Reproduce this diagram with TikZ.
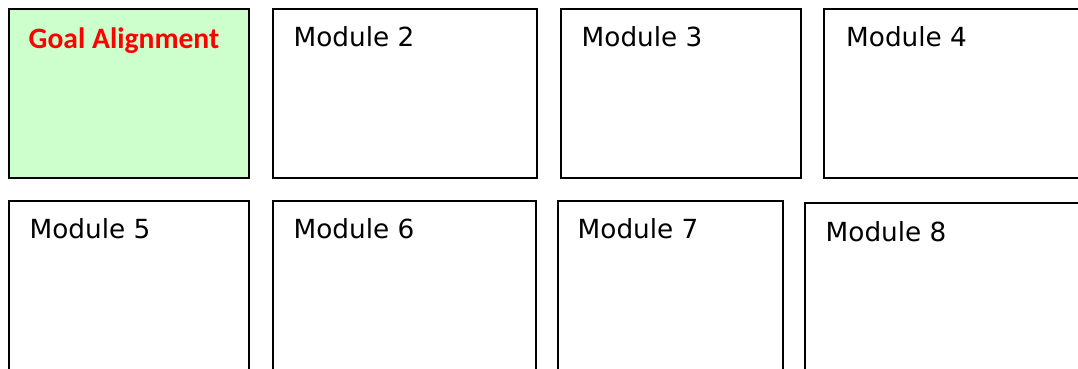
\documentclass[tikz,border=0pt]{standalone}
\usepackage{fontspec}
\newfontfamily\modfont{DejaVu Sans}
\newfontfamily\goalfont{Carlito}
\definecolor{goalfill}{RGB}{204,255,204}
\definecolor{goalred}{RGB}{255,0,0}
\tikzset{
  modbox/.style={draw=black, line width=1.5pt, fill=white, inner sep=0pt, outer sep=0pt, anchor=north west},
  modtext/.style={anchor=base west, inner sep=0pt, font=\modfont\fontsize{26.3}{30}\selectfont, text=black},
  goaltext/.style={anchor=base west, inner sep=0pt, font=\goalfont\bfseries\fontsize{29.6}{34}\selectfont, text=goalred}
}
\begin{document}
\begin{tikzpicture}[x=1pt,y=1pt]
  \useasboundingbox (0,0) rectangle (1078,368);
  \clip (0,0) rectangle (1078,368);
  \fill[white] (0,0) rectangle (1078,368);
  % first row
  \node[modbox, fill=goalfill, minimum width=240pt, minimum height=169pt] (b1) at (9,359) {};
  \node[modbox, minimum width=264pt, minimum height=169pt] (b2) at (273,359) {};
  \node[modbox, minimum width=240pt, minimum height=169pt] (b3) at (561,359) {};
  \node[modbox, minimum width=266pt, minimum height=169pt] (b4) at (824,359) {};
  % second row
  \node[modbox, minimum width=240pt, minimum height=180pt] (b5) at (9,167) {};
  \node[modbox, minimum width=263pt, minimum height=180pt] (b6) at (273,167) {};
  \node[modbox, minimum width=225pt, minimum height=180pt] (b7) at (558,167) {};
  \node[modbox, minimum width=285pt, minimum height=180pt] (b8) at (805,165) {};
  % labels
  \node[goaltext] (t1) at (28.5,320) {Goal Alignment};
  \node[modtext] (t2) at (293.5,322) {Module 2};
  \node[modtext] (t3) at (581.5,322) {Module 3};
  \node[modtext] (t4) at (846,322) {Module 4};
  \node[modtext] (t5) at (29.5,130) {Module 5};
  \node[modtext] (t6) at (293.5,130) {Module 6};
  \node[modtext] (t7) at (577.5,130) {Module 7};
  \node[modtext] (t8) at (825.5,126.5) {Module 8};
\end{tikzpicture}
\end{document}
